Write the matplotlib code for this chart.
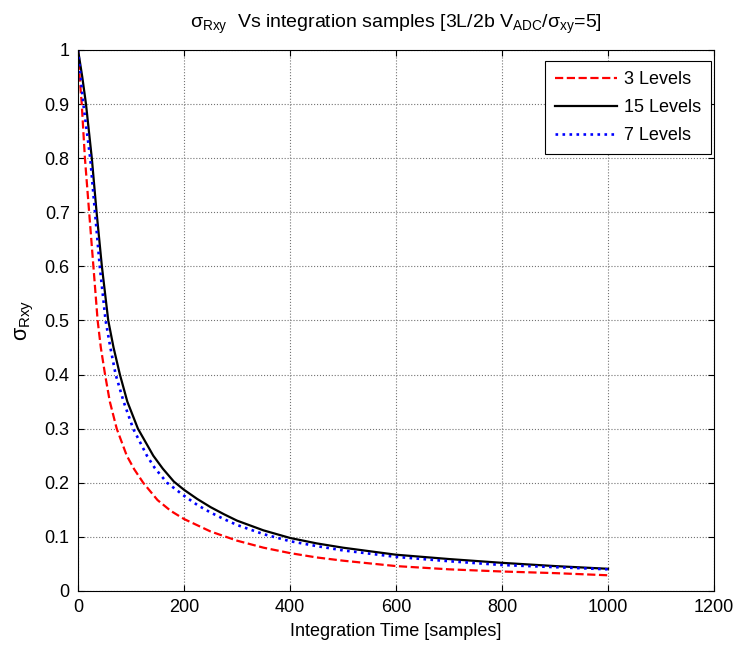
import matplotlib

matplotlib.use("Agg")
import matplotlib.pyplot as plt

# values
x_red = [0, 3, 7, 13, 21, 29, 37, 43, 51, 60, 73, 92, 106, 123, 150, 175,
         200, 250, 300, 350, 400, 450, 500, 600, 700, 800, 900, 1000]
y_red = [1.0, 0.95, 0.9, 0.8, 0.7, 0.6, 0.5, 0.45, 0.4, 0.35, 0.3, 0.25,
         0.225, 0.2, 0.168, 0.148, 0.133, 0.11, 0.093, 0.08, 0.07, 0.062,
         0.056, 0.046, 0.04, 0.036, 0.033, 0.029]

x_black = [0, 8, 15, 26, 35, 45, 57, 67, 79, 93, 113, 142, 160, 181,
           200, 225, 250, 275, 300, 350, 400, 450, 500, 600, 700, 800, 900,
           1000]
y_black = [1.0, 0.95, 0.9, 0.8, 0.7, 0.6, 0.5, 0.45, 0.4, 0.35, 0.3,
           0.25, 0.226, 0.202, 0.187, 0.17, 0.155, 0.142, 0.13, 0.112, 0.098,
           0.088, 0.08, 0.067, 0.059, 0.052, 0.046, 0.041]

x_blue = [0, 5, 10, 23, 32, 41, 52, 61, 71, 86, 104, 130, 145, 168, 200,
          225, 250, 275, 300, 350, 400, 450, 500, 600, 700, 800, 900, 1000]
y_blue = [1.0, 0.95, 0.9, 0.8, 0.7, 0.6, 0.5, 0.45, 0.4, 0.35, 0.3, 0.25,
          0.227, 0.2, 0.176, 0.159, 0.145, 0.133, 0.122, 0.105, 0.092, 0.083,
          0.075, 0.063, 0.055, 0.048, 0.044, 0.040]

labels = ["3 Levels", "15 Levels", "7 Levels"]
yticklabels = ["0", "0.1", "0.2", "0.3", "0.4", "0.5", "0.6", "0.7", "0.8",
               "0.9", "1"]

plt.rcParams["font.family"] = ["Liberation Sans", "DejaVu Sans"]
plt.rcParams["mathtext.fontset"] = "custom"
plt.rcParams["mathtext.rm"] = "Liberation Sans"
plt.rcParams["font.size"] = 13

fig = plt.figure(figsize=(7.34, 6.48), dpi=100)
ax = fig.add_axes([0.1063, 0.088, 0.8665, 0.835])

ax.plot(x_red, y_red, "--", color="red", lw=1.6, label=labels[0])
ax.plot(x_black, y_black, "-", color="black", lw=1.6, label=labels[1])
ax.plot(x_blue, y_blue, ":", color="blue", lw=1.9, label=labels[2])

ax.set_xlim(0, 1200)
ax.set_ylim(0, 1)
ax.set_xticks(range(0, 1201, 200))
ax.set_yticks([i / 10 for i in range(11)])
ax.set_yticklabels(yticklabels)
ax.grid(True, ls=":", color="0.45", lw=0.8)
ax.tick_params(direction="in", top=True, right=True, length=4, labelsize=13,
               pad=6)

ax.set_xlabel("Integration Time [samples]", labelpad=5)
ax.set_ylabel(r"$\mathregular{σ_{Rxy}}$", labelpad=6, fontsize=15.5)
ax.set_title(r"$\mathregular{σ_{Rxy}}$  Vs integration samples "
             r"[3L/2b V$\mathregular{_{ADC}}$/$\mathregular{σ_{xy}}$=5]",
             fontsize=14, pad=16)

leg = ax.legend(loc="upper right", bbox_to_anchor=(711 / 734, 1 - 61 / 648),
                bbox_transform=fig.transFigure, borderaxespad=0,
                fancybox=False, framealpha=1, edgecolor="black",
                borderpad=0.55, handlelength=3.4, handletextpad=0.4,
                labelspacing=0.62, fontsize=13)
leg.get_frame().set_linewidth(0.8)

fig.savefig("out.png", dpi=100)
